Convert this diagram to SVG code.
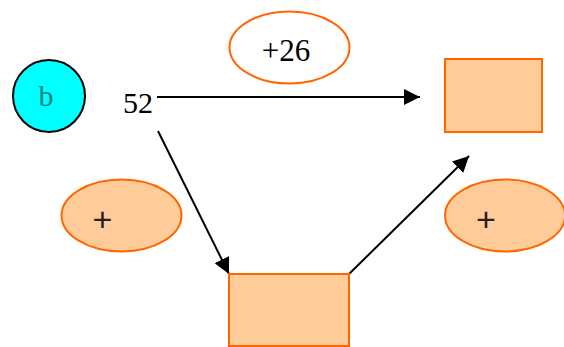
<svg xmlns="http://www.w3.org/2000/svg" width="564" height="347" viewBox="0 0 564 347">
<style>
.box{fill:#FFCC99;stroke:#FF6600;stroke-width:2}
.ell{fill:#FFCC99;stroke:#FF6600;stroke-width:2}
.lbl{fill:#FFFFFF;stroke:#FF6600;stroke-width:2}
.conn{stroke:#000;stroke-width:2;fill:none;marker-end:url(#arr)}
.serif{font-family:"Liberation Serif","Times New Roman",serif;fill:#000}
.plus{font-family:"Liberation Sans",Arial,sans-serif;font-size:34px;fill:#222}
</style>
<defs>
<marker id="arr" markerUnits="userSpaceOnUse" markerWidth="18" markerHeight="16" refX="16" refY="8" orient="auto">
<path d="M0,0 L16,8 L0,16 Z" fill="#000"/>
</marker>
</defs>
<rect width="564" height="347" fill="#fff"/>
<g id="connectors">
<line class="conn" x1="157" y1="97" x2="420" y2="97"/>
<line class="conn" x1="158" y1="131" x2="229" y2="274"/>
<line class="conn" x1="349" y1="274" x2="469" y2="156"/>
</g>
<g id="node-b">
<circle cx="49" cy="96" r="36" fill="#00FFFF" stroke="#000" stroke-width="2"/>
<text x="46" y="106" font-family="Liberation Serif, Times New Roman, serif" font-size="30" fill="#008080" text-anchor="middle">b</text>
</g>
<g id="node-52">
<text x="123" y="113" class="serif" font-size="30">52</text>
</g>
<g id="label-26">
<ellipse class="lbl" cx="289.5" cy="47.5" rx="60" ry="36"/>
<text x="286" y="61" class="serif" font-size="31" text-anchor="middle">+26</text>
</g>
<g id="box-top">
<rect class="box" x="445" y="59" width="97" height="73"/>
</g>
<g id="box-bottom">
<rect class="box" x="229" y="274" width="120" height="72"/>
</g>
<g id="plus-left">
<ellipse class="ell" cx="121.5" cy="215.5" rx="60" ry="36"/>
<text x="102.5" y="231" class="plus" text-anchor="middle">+</text>
</g>
<g id="plus-right">
<ellipse class="ell" cx="505" cy="215.5" rx="60" ry="36"/>
<text x="486" y="231" class="plus" text-anchor="middle">+</text>
</g>
</svg>
